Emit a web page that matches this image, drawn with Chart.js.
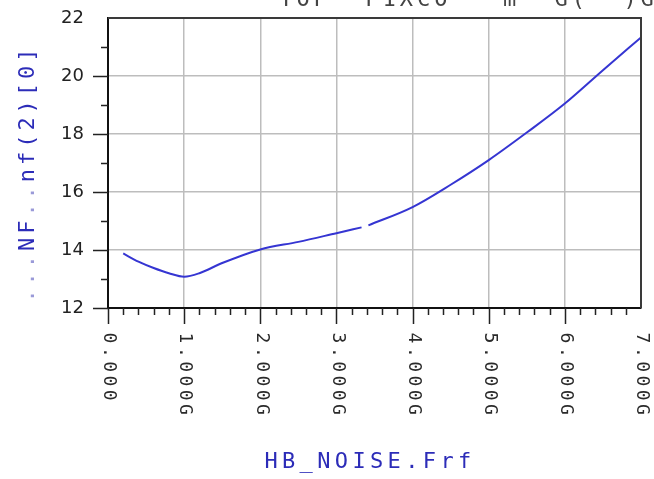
<!DOCTYPE html>
<html>
<head>
<meta charset="utf-8">
<script src="https://cdn.jsdelivr.net/npm/chart.js@4/dist/chart.umd.min.js"></script>
<style>
  html, body { margin: 0; padding: 0; background: #fff; }
  canvas { display: block; }
</style>
</head>
<body>
<canvas id="chart-nf" width="654" height="479"></canvas>
<script>
(function () {
  'use strict';

  // noise figure vs frequency (GHz); null marks the short break in the trace
  var freqGHz  = [0.2, 0.4, 0.6, 0.8, 1.0, 1.2, 1.5, 2.0, 2.5, 3.0, 3.33, 3.37, 3.42, 4.0, 4.5, 5.0, 5.5, 6.0, 6.5, 7.0];
  var nfValues = [13.88, 13.6, 13.38, 13.2, 13.08, 13.2, 13.55, 14.02, 14.28, 14.58, 14.78, null, 14.85, 15.48, 16.25, 17.1, 18.05, 19.05, 20.2, 21.33];

  var xTickLabels = ['0.000', '1.000G', '2.000G', '3.000G', '4.000G', '5.000G', '6.000G', '7.000G'];
  var yTickValues = [12, 14, 16, 18, 20, 22];

  var xTitle = 'HB_NOISE.Frf';
  var yTitle = '...NF..nf(2)[0]';
  var topTitle = 'TOP  P1XCO   m  G(  )G';

  var MONO = '"DejaVu Sans Mono", monospace';
  var BLUE = '#2c2cb8';

  // draw a string one glyph at a time with a fixed advance
  function spaced(ctx, text, step, colorFor) {
    for (var i = 0; i < text.length; i++) {
      if (colorFor) ctx.fillStyle = colorFor(text[i]);
      ctx.fillText(text[i], i * step, 0);
    }
  }

  var adsFrame = {
    id: 'adsFrame',
    afterDraw: function (chart) {
      var ctx = chart.ctx, a = chart.chartArea;
      var x = chart.scales.x, y = chart.scales.y;
      ctx.save();

      // top and right edges of the plot box
      ctx.strokeStyle = '#3a3a3a';
      ctx.lineWidth = 2;
      ctx.beginPath();
      ctx.moveTo(a.left, a.top);
      ctx.lineTo(a.right, a.top);
      ctx.lineTo(a.right, a.bottom);
      ctx.stroke();

      // tick marks, major long and minor short
      ctx.strokeStyle = '#222';
      ctx.lineWidth = 1.5;
      ctx.beginPath();
      for (var v = y.min; v < y.max; v += 1) {
        var py = Math.round(y.getPixelForValue(v)) + 0.5;
        var len = (v % 2 === 0) ? 15 : 7;
        ctx.moveTo(a.left - len, py);
        ctx.lineTo(a.left, py);
      }
      for (var i = 0; i < 35; i++) {
        var px = Math.round(x.getPixelForValue(i * 0.2)) + 0.5;
        var tl = (i % 5 === 0) ? 16 : 7;
        ctx.moveTo(px, a.bottom);
        ctx.lineTo(px, a.bottom + tl);
      }
      ctx.stroke();

      // frequency labels, turned to read downwards
      ctx.font = '18px ' + MONO;
      ctx.fillStyle = '#2a2a2a';
      ctx.textAlign = 'center';
      ctx.textBaseline = 'middle';
      xTickLabels.forEach(function (lbl, k) {
        ctx.save();
        ctx.translate(x.getPixelForValue(k) + 1, a.bottom + 30);
        ctx.rotate(Math.PI / 2);
        spaced(ctx, lbl, 14.3);
        ctx.restore();
      });

      // axis titles
      ctx.font = '22px ' + MONO;
      ctx.textBaseline = 'alphabetic';
      ctx.save();
      ctx.translate(271, 468);
      spaced(ctx, xTitle, 17.6, function () { return BLUE; });
      ctx.restore();

      ctx.save();
      ctx.translate(34, 296);
      ctx.rotate(-Math.PI / 2);
      spaced(ctx, yTitle, 17.2, function (c) { return c === '.' ? '#9a9ad8' : BLUE; });
      ctx.restore();

      // plot heading, mostly above the top of the page
      ctx.save();
      ctx.translate(286, 6);
      ctx.fillStyle = '#444';
      spaced(ctx, topTitle, 17.2);
      ctx.restore();

      ctx.restore();
    }
  };

  var el = document.getElementById('chart-nf');
  new Chart(el, {
    type: 'line',
    data: {
      datasets: [{
        label: 'NF',
        data: freqGHz.map(function (f, i) { return { x: f, y: nfValues[i] }; }),
        borderColor: '#3535d2',
        borderWidth: 2,
        pointRadius: 0,
        cubicInterpolationMode: 'monotone',
        spanGaps: false,
        fill: false
      }]
    },
    options: {
      responsive: false,
      animation: false,
      devicePixelRatio: 1,
      layout: { padding: { left: 0, right: 13, top: 18, bottom: 0 } },
      plugins: { legend: { display: false }, tooltip: { enabled: false } },
      scales: {
        x: {
          type: 'linear',
          min: 0,
          max: 7,
          ticks: { stepSize: 1, display: false },
          grid: { color: '#bdbdbd', lineWidth: 1.5, drawTicks: false },
          border: { color: '#111', width: 2 },
          afterFit: function (s) { s.height = 171; }
        },
        y: {
          min: 12,
          max: 22,
          afterBuildTicks: function (s) { s.ticks = yTickValues.map(function (v) { return { value: v }; }); },
          ticks: {
            padding: 24,
            color: '#222',
            font: { family: 'DejaVu Sans', size: 18 }
          },
          grid: { color: '#bdbdbd', lineWidth: 1.5, drawTicks: false },
          border: { color: '#111', width: 2 },
          afterFit: function (s) {
            s.width = 108;
            s.paddingTop = 0;
            s.paddingBottom = 0;
          }
        }
      }
    },
    plugins: [adsFrame]
  });
})();
</script>
</body>
</html>
